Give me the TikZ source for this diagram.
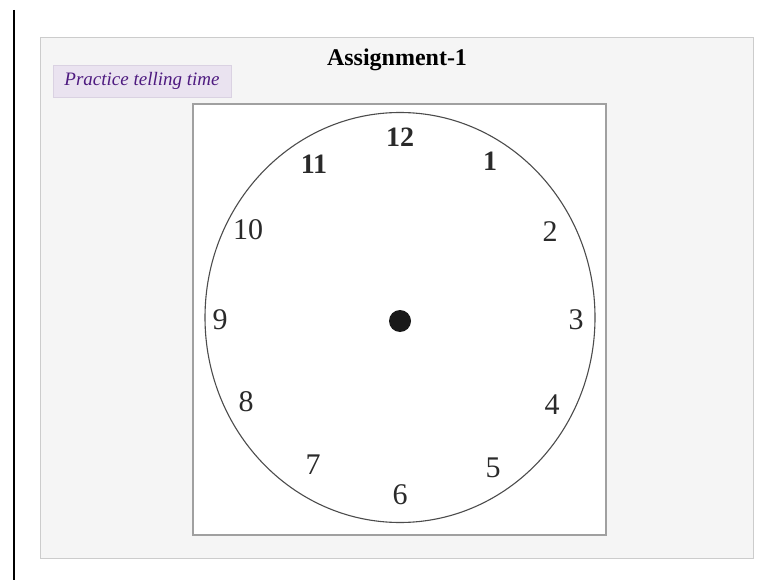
\documentclass[tikz,border=0pt]{standalone}
\usepackage{fontspec}
\setmainfont{Liberation Serif}
\definecolor{panelfill}{HTML}{F5F5F5}
\definecolor{panelline}{HTML}{CCCCCC}
\definecolor{boxline}{HTML}{A0A0A0}
\definecolor{labelfill}{HTML}{EAE3F0}
\definecolor{labelline}{HTML}{DAD2E2}
\definecolor{labeltext}{HTML}{4E1A80}
\definecolor{numcol}{HTML}{2A2A2A}
\begin{document}
\begin{tikzpicture}[x=1pt,y=-1pt,
  num/.style={text=numcol, inner sep=0pt, font=\fontsize{30}{30}\selectfont},
  numsmall/.style={text=numcol, inner sep=0pt, font=\bfseries\fontsize{28}{28}\selectfont}]
\useasboundingbox (0,0) rectangle (771,580);
\fill[white] (0,0) rectangle (771,580);
% left black bar
\draw[line width=2pt,black] (14,10) -- (14,580);
% panel
\draw[fill=panelfill,draw=panelline,line width=1pt] (40,38) rectangle (753,558);
% title
\node[font=\bfseries\fontsize{24}{24}\selectfont] (title) at (397,60) {Assignment-1};
% label
\node[draw=labelline, fill=labelfill, line width=0.8pt, minimum width=178pt, minimum height=32pt,
  inner sep=0pt, text=labeltext, font=\itshape\fontsize{19}{19}\selectfont] (label) at (142,81) {Practice telling time};
% clock box
\draw[fill=white,draw=boxline,line width=1.2pt] (193,104) rectangle (606,535);
% face
\draw[draw=black!70,line width=1.1pt] (400,317.5) ellipse [x radius=195, y radius=205];
\fill[black!90] (400,321) circle [radius=11];
% numbers
\node[numsmall] (n12) at (400,137) {12};
\node[numsmall] (n1) at (490,161) {1};
\node[num] (n2) at (550,232) {2};
\node[num] (n3) at (576,320) {3};
\node[num] (n4) at (552,405) {4};
\node[num] (n5) at (493,468) {5};
\node[num] (n6) at (400,495) {6};
\node[num] (n7) at (313,465) {7};
\node[num] (n8) at (246,402) {8};
\node[num] (n9) at (220,320) {9};
\node[num] (n10) at (248,230) {10};
\node[numsmall] (n11) at (314,164) {11};
\end{tikzpicture}
\end{document}
